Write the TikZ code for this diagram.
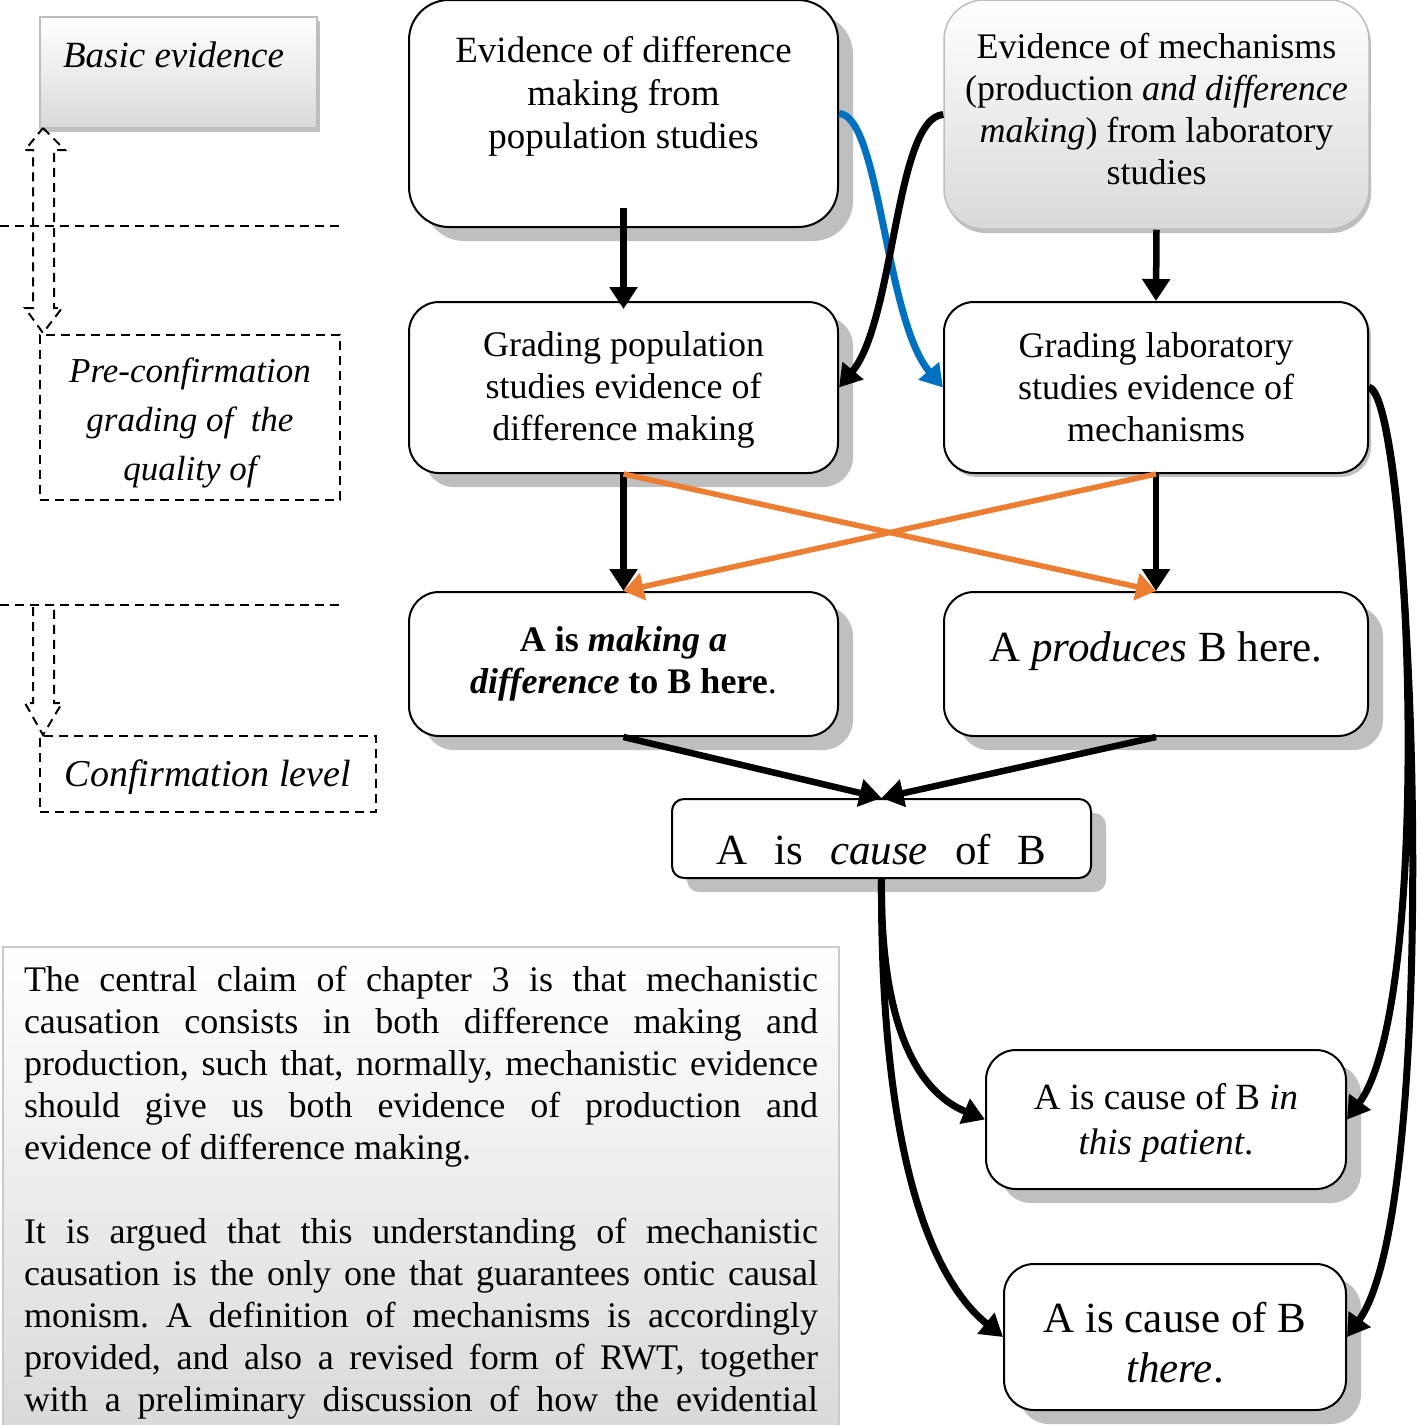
\documentclass[tikz,border=0pt]{standalone}
\usepackage{fontspec}
\setmainfont{Liberation Serif}
\usetikzlibrary{arrows.meta,shadows}

\definecolor{shgray}{HTML}{BFBFBF}
\definecolor{panelgray}{HTML}{D9D9D9}
\definecolor{edgegray}{HTML}{BDBDBD}
\definecolor{linkblue}{HTML}{0070C0}
\definecolor{linkorange}{HTML}{ED7D31}

% extra depth / height used to move a node's text up or down inside its frame
\newcommand\padbelow[1]{\rule[-#1]{0pt}{0pt}}
\newcommand\padabove[1]{\rule{0pt}{#1}}

\begin{document}
\frenchspacing
\begin{tikzpicture}[x=1pt,y=-1pt,
  box/.style={draw=black, line width=2pt, fill=white, align=center, inner sep=0pt,
              font=\fontsize{36}{42}\selectfont},
  deepshadow/.style={drop shadow={shadow xshift=15pt,shadow yshift=-14pt,fill=shgray,opacity=1}},
  lightshadow/.style={drop shadow={shadow xshift=3pt,shadow yshift=-4pt,fill=shgray,opacity=1}},
  panel/.style={draw=edgegray, line width=1.5pt, top color=white, bottom color=panelgray,
                align=center, inner sep=0pt},
  dashline/.style={dash pattern=on 9pt off 6pt, line width=2pt},
  flow/.style={line width=6.5pt, -{Triangle[length=22pt,width=27pt]}},
  curvelink/.style={line width=7pt, -{Triangle[length=22pt,width=26pt]}},
  cross/.style={line width=5.5pt, color=linkorange, -{Triangle[length=20pt,width=27pt]}},
]
\useasboundingbox (0,0) rectangle (1421,1425);

% ---------- left-hand legend ----------
\node[panel, lightshadow, minimum width=277pt, minimum height=111pt,
      font=\fontsize{37}{44}\selectfont\itshape] (basic) at (178.5,72.5)
      {Basic evidence\hspace{10pt}\padbelow{35pt}};

\draw[dashline] (0,226) -- (340,226);
\draw[dashline] (0,605) -- (340,605);

\node[draw, dashline, minimum width=300pt, minimum height=165pt, inner sep=0pt,
      align=center, font=\fontsize{35}{49}\selectfont\itshape] (pre) at (190,417.5)
      {\padabove{36pt}Pre-confirmation\\grading of\ \ the\\quality of};

\node[draw, dashline, minimum width=336pt, minimum height=76pt, inner sep=0pt,
      font=\fontsize{38}{44}\selectfont\itshape] (conf) at (208,774)
      {\padabove{34pt}Confirmation level};

% hollow dashed block arrows between the levels
\draw[dashline, line join=miter]
  (43,128) -- (65,150) -- (54,150) -- (54,308) -- (62,308) -- (43,333)
  -- (25,308) -- (33,308) -- (33,150) -- (25,150) -- cycle;
\draw[dashline, line join=miter]
  (33,607) -- (33,703) -- (25,703) -- (43,735) -- (62,703) -- (54,703) -- (54,607);

% ---------- summary text ----------
\node[panel, draw=edgegray!80, line width=2pt, anchor=north west, text width=794pt,
      inner xsep=21pt, inner ysep=19pt, align=justify,
      font=\fontsize{36}{42}\selectfont] (note) at (2,946)
{The central claim of chapter 3 is that mechanistic\linebreak
causation consists in both difference making and\linebreak
production, such that, normally, mechanistic evidence\linebreak
should give us both evidence of production and\linebreak
evidence of difference making.\par\vspace{42pt}
It is argued that this understanding of mechanistic\linebreak
causation is the only one that guarantees ontic causal\linebreak
monism. A definition of mechanisms is accordingly\linebreak
provided, and also a revised form of RWT, together\linebreak
with a preliminary discussion of how the evidential{\parfillskip=0pt\par}};

% ---------- evidence boxes ----------
\node[box, deepshadow, rounded corners=40pt, minimum width=429pt, minimum height=227pt,
      font=\fontsize{37}{43}\selectfont] (ev1) at (623.5,113.5)
      {Evidence of difference\\making from\\population studies\padbelow{43pt}};

\node[panel, drop shadow={shadow xshift=2pt,shadow yshift=-4pt,fill=shgray,opacity=1},
      rounded corners=40pt, minimum width=425pt, minimum height=229pt,
      font=\fontsize{36}{42}\selectfont] (ev2) at (1156.5,114.5)
      {Evidence of mechanisms\\(production \textit{and difference}\\\textit{making}) from laboratory\\studies\padbelow{12pt}};

\node[box, deepshadow, rounded corners=30pt, minimum width=429pt, minimum height=171pt]
      (gr1) at (623.5,387.5)
      {\padabove{30pt}Grading population\\studies evidence of\\difference making};

\node[box, lightshadow, rounded corners=30pt, minimum width=424pt, minimum height=171pt]
      (gr2) at (1156,387.5)
      {Grading laboratory\\studies evidence of\\mechanisms};

\node[box, deepshadow, rounded corners=30pt, minimum width=429pt, minimum height=144pt,
      font=\fontsize{36}{42}\selectfont\bfseries] (mk1) at (623.5,664)
      {A is \textit{making a}\\\textit{difference} to B here\mdseries.};

\node[box, deepshadow, rounded corners=30pt, minimum width=424pt, minimum height=144pt,
      font=\fontsize{43}{50}\selectfont] (prod) at (1156,664)
      {A \textit{produces} B here.\padbelow{34pt}};

\node[box, deepshadow, rounded corners=12pt, minimum width=419pt, minimum height=79pt,
      font=\fontsize{43}{50}\selectfont] (cz) at (881.5,838.5)
      {\padabove{53pt}A\hspace{27pt}is\hspace{27pt}\textit{cause}\hspace{27pt}of\hspace{27pt}B};

\node[box, deepshadow, rounded corners=30pt, minimum width=360pt, minimum height=139pt,
      font=\fontsize{37}{45}\selectfont] (pat) at (1166,1119.5)
      {\padabove{33pt}A is cause of B \textit{in}\\\textit{this patient}.};

\node[box, deepshadow, rounded corners=30pt, minimum width=342pt, minimum height=146pt,
      font=\fontsize{43}{50}\selectfont] (th) at (1175,1337)
      {\padabove{42pt}A is cause of B\\\textit{there}.};

% ---------- connectors ----------
\draw[flow] ([yshift=20pt]ev1.south) -- ([yshift=-8pt]gr1.north);
\draw[flow] (ev2.south) -- (gr2.north);
\draw[flow] (gr1.south) -- (mk1.north);
\draw[flow] (gr2.south) -- (prod.north);

\draw[cross] (gr1.south) -- (prod.north);
\draw[cross] (gr2.south) -- (mk1.north);

\draw[curvelink, linkblue] (ev1.east) .. controls (880,115) and (885,320) .. (gr2.west);
\draw[curvelink] (ev2.west) .. controls (895,118) and (895,320) .. (gr1.east);

\draw[flow] (mk1.south) -- (cz.north);
\draw[flow] (prod.south) -- (cz.north);

\draw[curvelink] (cz.south) .. controls (880,1040) and (925,1095) .. (pat.west);
\draw[curvelink] (cz.south) .. controls (880,1190) and (945,1290) .. (th.west);

\draw[curvelink] (gr2.east) .. controls (1410,400) and (1435,1000) .. (pat.east);
\draw[curvelink] (gr2.east) .. controls (1412,390) and (1445,1200) .. (th.east);
\end{tikzpicture}
\end{document}
